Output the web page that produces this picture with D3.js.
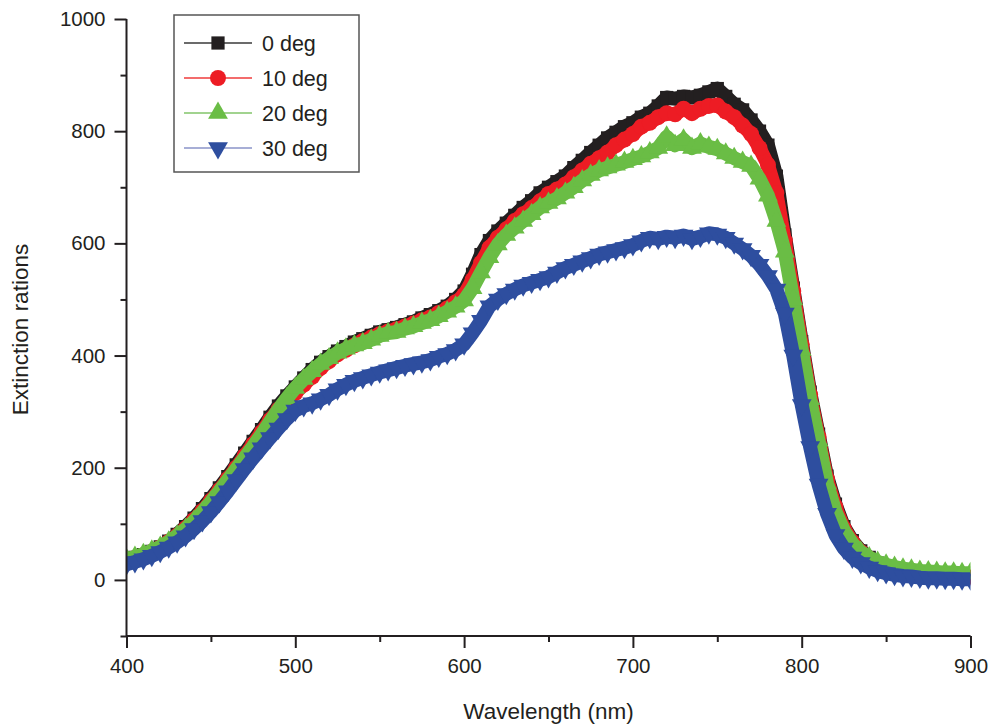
<!DOCTYPE html>
<html>
<head>
<meta charset="utf-8">
<script src="https://cdn.jsdelivr.net/npm/d3@7"></script>
<style>
  body { margin: 0; background: #fff; }
  svg text { font-family: "Liberation Sans", Arial, Helvetica, sans-serif; fill: #231f20; }
</style>
</head>
<body>
<div id="chart"></div>
<script>
// wavelength (nm), 5 nm step
const wavelengths = d3.range(400, 901, 5);

// extinction ratios
const deg0 = [36,40,45,51,59,69,81,95,110,127,145,164,184,205,226,247,268,290,310,328,
  344,360,375,388,398,408,416,424,430,436,442,446,450,455,460,467,473,480,488,500,
  515,545,580,605,622,636,650,664,676,690,700,710,720,735,748,762,775,788,798,808,
  815,825,832,845,860,858,862,860,864,870,876,862,848,838,820,800,775,720,615,520,
  425,335,260,185,135,95,70,52,40,30,24,19,15,12,10,9,8,7,6,6,5];
const deg10 = [35,39,44,50,58,68,79,92,107,123,141,160,180,200,221,242,263,285,304,320,
  333,348,362,378,390,402,410,418,426,432,438,443,447,452,457,463,468,476,484,495,
  508,535,565,592,610,625,640,652,663,675,688,696,705,718,730,742,752,762,775,785,
  795,808,815,825,832,830,840,832,840,845,846,835,825,810,795,770,740,690,605,515,
  420,330,255,180,130,92,68,50,38,29,23,18,14,11,9,8,7,6,6,5,5];
const deg20 = [37,41,46,52,59,68,79,91,105,121,139,158,178,198,218,238,259,282,304,324,
  342,358,372,385,395,405,412,418,422,428,435,440,442,448,452,458,463,470,478,487,
  498,520,548,575,598,615,628,640,652,664,672,680,690,700,712,722,730,735,740,745,
  750,755,762,770,790,775,785,770,778,772,768,760,752,745,738,715,685,640,585,500,
  410,322,248,172,122,88,65,50,40,32,27,23,20,18,16,15,14,13,13,12,12];
const deg30 = [28,32,37,43,50,58,67,78,91,105,121,139,158,178,198,217,235,253,270,287,
  302,310,315,322,330,340,348,355,360,365,370,374,378,382,385,388,392,398,403,410,
  420,440,462,488,500,510,518,525,530,535,540,548,556,562,568,574,580,584,588,592,
  597,604,610,608,612,610,614,608,612,618,616,610,600,590,578,562,542,518,475,400,
  312,237,170,118,80,56,40,30,22,16,12,9,7,6,4,3,3,2,2,1,1];

const seriesNames = ["0 deg", "10 deg", "20 deg", "30 deg"];
const seriesValues = [deg0, deg10, deg20, deg30];
const seriesColors = ["#231f20", "#ed1c24", "#6abd45", "#2e4e9f"];
const legendLineColors = ["#3a3a3a", "#ef3b3b", "#82c56a", "#8a93c9"];
const seriesSymbols = [d3.symbolSquare, d3.symbolCircle, d3.symbolTriangle, d3.symbolTriangle];

const yMajorTicks = [0, 200, 400, 600, 800, 1000];
const yMinorTicks = [-100, 100, 300, 500, 700, 900];
const xMajorTicks = [400, 500, 600, 700, 800, 900];
const xMinorTicks = [450, 550, 650, 750, 850];

const W = 991, H = 725;
const svg = d3.select("#chart").append("svg")
  .attr("width", W).attr("height", H);

const x = d3.scaleLinear().domain([400, 900]).range([126.5, 970.5]);
const y = d3.scaleLinear().domain([-100, 1000]).range([636, 19]);

// clip to plot area
svg.append("clipPath").attr("id", "plot-clip")
  .append("rect")
  .attr("x", x(400)).attr("y", 0)
  .attr("width", x(900) - x(400)).attr("height", y(-100));

const plot = svg.append("g").attr("clip-path", "url(#plot-clip)");

const line = d3.line()
  .x((d, i) => x(wavelengths[i]))
  .y(d => y(d));

function symbolPath(k, size) {
  return d3.symbol().type(seriesSymbols[k]).size(size)();
}
const symSize = [175, 200, 170, 170];

seriesValues.forEach((vals, k) => {
  const gS = plot.append("g");
  gS.append("path")
    .datum(vals)
    .attr("fill", "none")
    .attr("stroke", seriesColors[k])
    .attr("stroke-width", 14)
    .attr("stroke-linejoin", "round")
    .attr("d", line);
  gS.selectAll("path.mk")
    .data(vals)
    .enter().append("path")
    .attr("class", "mk")
    .attr("d", symbolPath(k, symSize[k]))
    .attr("fill", seriesColors[k])
    .attr("transform", (d, i) => {
      const rot = k === 3 ? " rotate(180)" : "";
      return `translate(${x(wavelengths[i])},${y(d)})${rot}`;
    });
});

// axes
const axisColor = "#231f20";
const yAxis = svg.append("g")
  .attr("transform", `translate(${x(400)},0)`)
  .call(d3.axisLeft(y).tickValues(yMajorTicks).tickSize(12).tickPadding(9).tickFormat(d3.format("d")));
const yMinor = svg.append("g")
  .attr("transform", `translate(${x(400)},0)`)
  .call(d3.axisLeft(y).tickValues(yMinorTicks).tickSize(6).tickFormat(""));
yMinor.select(".domain").remove();

const xAxis = svg.append("g")
  .attr("transform", `translate(0,${y(-100)})`)
  .call(d3.axisBottom(x).tickValues(xMajorTicks).tickSize(12).tickPadding(10).tickFormat(d3.format("d")));
const xMinor = svg.append("g")
  .attr("transform", `translate(0,${y(-100)})`)
  .call(d3.axisBottom(x).tickValues(xMinorTicks).tickSize(6).tickFormat(""));
xMinor.select(".domain").remove();

yAxis.select(".domain").attr("d", `M0,${y(-100)}V${y(1000)}`);
xAxis.select(".domain").attr("d", `M${x(400)},0H${x(900)}`);

svg.selectAll(".domain, .tick line")
  .attr("stroke", axisColor).attr("stroke-width", 2);
svg.selectAll(".tick text")
  .style("font-size", "20.5px")
  .attr("fill", axisColor);

// axis titles
svg.append("text")
  .attr("x", (x(400) + x(900)) / 2)
  .attr("y", 719)
  .attr("text-anchor", "middle")
  .style("font-size", "22.5px")
  .text("Wavelength (nm)");

svg.append("text")
  .attr("transform", `translate(28,${(y(-100) + y(1000)) / 2 + 2}) rotate(-90)`)
  .attr("text-anchor", "middle")
  .style("font-size", "22.5px")
  .text("Extinction rations");

// legend
const legend = svg.append("g");
legend.append("rect")
  .attr("x", 174).attr("y", 15)
  .attr("width", 185).attr("height", 157)
  .attr("fill", "#fff")
  .attr("stroke", "#555")
  .attr("stroke-width", 1.5);

seriesNames.forEach((name, k) => {
  const row = legend.append("g").attr("transform", `translate(0,${43 + k * 35})`);
  row.append("line")
    .attr("x1", 184).attr("x2", 252)
    .attr("y1", 0).attr("y2", 0)
    .attr("stroke", legendLineColors[k])
    .attr("stroke-width", 1.5);
  row.append("path")
    .attr("d", symbolPath(k, symSize[k]))
    .attr("fill", seriesColors[k])
    .attr("transform", `translate(218,0)${k === 3 ? " rotate(180)" : ""}`);
  row.append("text")
    .attr("x", 262).attr("y", 7.5)
    .style("font-size", "21.5px")
    .text(name);
});
</script>
</body>
</html>
